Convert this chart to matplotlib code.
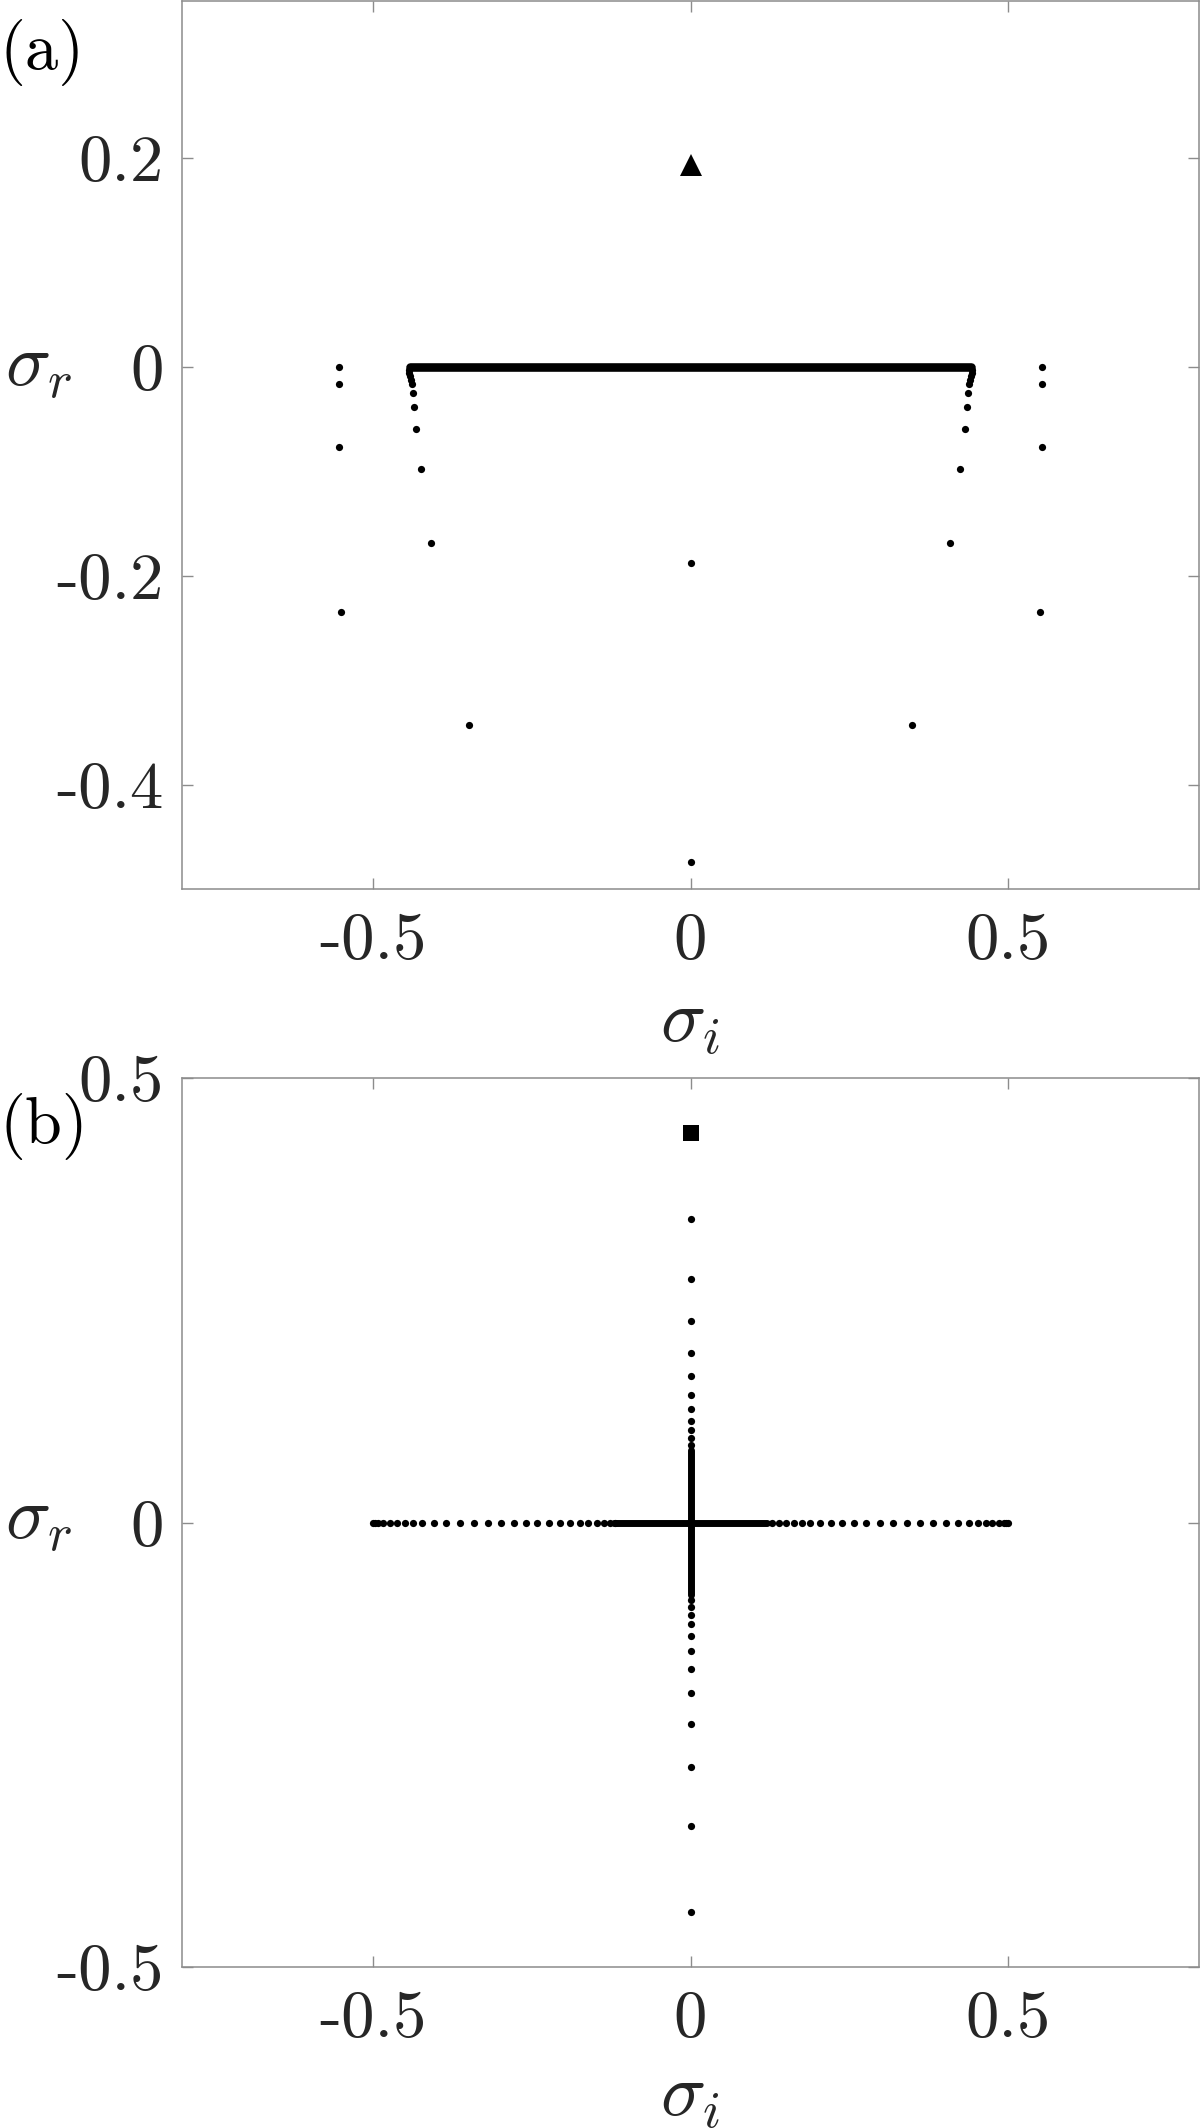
import numpy as np
import matplotlib
matplotlib.use("Agg")
import matplotlib.pyplot as plt

plt.rcParams['font.family'] = 'serif'
plt.rcParams['font.serif'] = ['cmr10']
plt.rcParams['mathtext.fontset'] = 'cm'
plt.rcParams['axes.unicode_minus'] = False
plt.rcParams['axes.formatter.use_mathtext'] = True

# ---- panel (a) data ----
# continuous spectrum on sigma_r = 0 (ends of the dense band)
a_band_x = [-0.441, 0.441]
a_band_y = [0.0, 0.0]
# branch bending down near the band ends (right side, mirrored on the left)
a_branch_x = [0.4435, 0.4425, 0.441, 0.4395, 0.4385, 0.437, 0.4348, 0.4315, 0.424, 0.408]
a_branch_y = [-0.003, -0.006, -0.009, -0.0125, -0.0168, -0.0252, -0.0385, -0.060, -0.098, -0.169]
# outer discrete modes
a_outer_x = [0.553, 0.553, 0.553, 0.5505]
a_outer_y = [0.0, -0.0168, -0.077, -0.235]
# remaining isolated modes
a_iso_x = [-0.348, 0.348, 0.0, 0.0]
a_iso_y = [-0.343, -0.343, -0.188, -0.474]
# unstable mode
a_tri_x = [0.0]
a_tri_y = [0.193]

# ---- panel (b) data ----
b_hband_x = [-0.12, 0.12]
b_vband_y = [-0.082, 0.082]
b_h_right = [0.128, 0.1395, 0.151, 0.1625, 0.175, 0.1887, 0.2033, 0.221, 0.2378,
             0.2577, 0.2765, 0.2984, 0.3193, 0.3401, 0.3611, 0.382, 0.4019, 0.4207,
             0.4384, 0.452, 0.4646, 0.475, 0.4854, 0.4933, 0.4965, 0.4995]
b_h_left = [-0.118, -0.127, -0.1364, -0.1478, -0.1608, -0.174, -0.1897, -0.2053,
            -0.2226, -0.2408, -0.259, -0.277, -0.298, -0.319, -0.341, -0.363, -0.384,
            -0.4028, -0.422, -0.4367, -0.4498, -0.462, -0.473, -0.484, -0.492, -0.4965, -0.5]
b_v_up = [0.0871, 0.0945, 0.1035, 0.1144, 0.1272, 0.1437, 0.1643, 0.1909, 0.2261,
          0.2740, 0.3411]
b_v_down = [-0.0868, -0.0946, -0.1040, -0.1145, -0.1276, -0.1441, -0.1651, -0.1916,
            -0.2269, -0.2748, -0.3419, -0.4382]
b_sq_x = [0.0]
b_sq_y = [0.4378]

xticks = [-0.5, 0, 0.5]
xticklabels = ['-0.5', '0', '0.5']
a_yticks = [-0.4, -0.2, 0, 0.2]
a_yticklabels = ['-0.4', '-0.2', '0', '0.2']
b_yticks = [-0.5, 0, 0.5]
b_yticklabels = ['-0.5', '0', '0.5']

W, H = 1200, 2128
fig = plt.figure(figsize=(W / 100, H / 100), dpi=100)

spine_col = '#8c8c8c'
text_col = '#262626'
fs = 48
lfs = 54
dot_ms = 5.2


def style(ax, yticks, yticklabels):
    ax.set_xlim(-0.8, 0.8)
    ax.set_xticks(xticks)
    ax.set_xticklabels(xticklabels)
    ax.set_yticks(yticks)
    ax.set_yticklabels(yticklabels)
    for s in ax.spines.values():
        s.set_color(spine_col)
        s.set_linewidth(1.1)
    ax.tick_params(direction='in', length=8, width=1.0, color=spine_col,
                   top=True, right=True, labelsize=fs, labelcolor=text_col)
    ax.tick_params(axis='x', pad=17)
    ax.tick_params(axis='y', pad=13)


ax_a = fig.add_axes([182 / W, 1 - 889 / H, 1017 / W, 888 / H])
ax_a.plot(a_band_x, a_band_y, color='k', lw=6.2, solid_capstyle='round')
ax_a.plot(a_branch_x, a_branch_y, 'o', color='k', ms=dot_ms, mew=0)
ax_a.plot(-np.array(a_branch_x), a_branch_y, 'o', color='k', ms=dot_ms, mew=0)
ax_a.plot(a_outer_x, a_outer_y, 'o', color='k', ms=dot_ms, mew=0)
ax_a.plot(-np.array(a_outer_x), a_outer_y, 'o', color='k', ms=dot_ms, mew=0)
ax_a.plot(a_iso_x, a_iso_y, 'o', color='k', ms=dot_ms, mew=0)
ax_a.plot(a_tri_x, a_tri_y, '^', color='k', ms=16, mew=0)
ax_a.set_ylim(-0.5, 0.35)
style(ax_a, a_yticks, a_yticklabels)

ax_b = fig.add_axes([182 / W, 1 - 1967 / H, 1017 / W, 889 / H])
ax_b.plot(b_hband_x, [0, 0], color='k', lw=5.0, solid_capstyle='round')
ax_b.plot([0, 0], b_vband_y, color='k', lw=5.0, solid_capstyle='round')
ax_b.plot(b_h_right, np.zeros(len(b_h_right)), 'o', color='k', ms=dot_ms, mew=0)
ax_b.plot(b_h_left, np.zeros(len(b_h_left)), 'o', color='k', ms=dot_ms, mew=0)
ax_b.plot(np.zeros(len(b_v_up)), b_v_up, 'o', color='k', ms=dot_ms, mew=0)
ax_b.plot(np.zeros(len(b_v_down)), b_v_down, 'o', color='k', ms=dot_ms, mew=0)
ax_b.plot(b_sq_x, b_sq_y, 's', color='k', ms=11.5, mew=0)
ax_b.set_ylim(-0.5, 0.5)
style(ax_b, b_yticks, b_yticklabels)

# axis labels and panel tags
fig.text(5 / W, 1 - 368 / H, r'$\sigma_r$', fontsize=lfs, color=text_col,
         ha='left', va='center')
fig.text(690 / W, 1 - 1024 / H, r'$\sigma_i$', fontsize=lfs, color=text_col,
         ha='center', va='center')
fig.text(5 / W, 1 - 1521 / H, r'$\sigma_r$', fontsize=lfs, color=text_col,
         ha='left', va='center')
fig.text(690 / W, 1 - 2098 / H, r'$\sigma_i$', fontsize=lfs, color=text_col,
         ha='center', va='center')
fig.text(0, 1 - 52 / H, '(a)', fontsize=fs, color='k', ha='left', va='center')
fig.text(0, 1 - 1127 / H, '(b)', fontsize=fs, color='k', ha='left', va='center')

fig.savefig('out.png', dpi=100, facecolor='white')
